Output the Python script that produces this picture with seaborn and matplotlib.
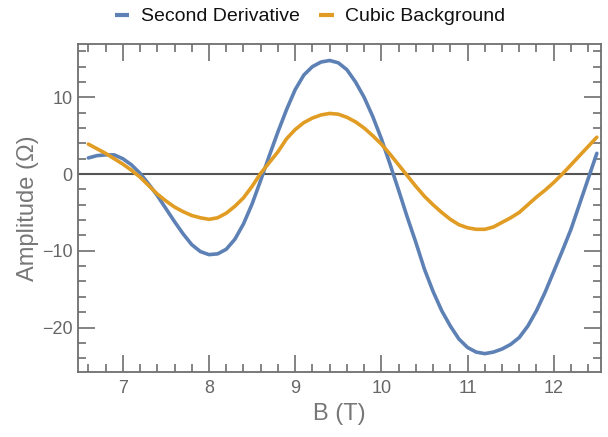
import numpy as np
import pandas as pd
import matplotlib
matplotlib.use('Agg')
import matplotlib.pyplot as plt
import seaborn as sns
from matplotlib.ticker import MultipleLocator

# field sampling grid (T)
field = np.round(np.arange(66, 126) / 10, 1)

second_derivative = [
    2.1, 2.4, 2.5, 2.5, 2.0, 1.2, 0.1, -1.3, -2.8, -4.5,
    -6.2, -7.8, -9.2, -10.1, -10.5, -10.4, -9.8, -8.5, -6.5, -3.9,
    -0.8, 2.4, 5.5, 8.4, 11.0, 12.9, 14.0, 14.6, 14.8, 14.5,
    13.6, 12.0, 10.0, 7.5, 4.6, 1.3, -2.1, -5.6, -8.9, -12.4,
    -15.3, -17.8, -19.8, -21.5, -22.6, -23.2, -23.4, -23.2, -22.8, -22.2,
    -21.3, -19.8, -17.8, -15.4, -12.7, -10.0, -7.2, -3.9, -0.6, 2.7,
]

cubic_background = [
    3.9, 3.3, 2.7, 2.0, 1.3, 0.5, -0.4, -1.5, -2.6, -3.5,
    -4.3, -4.9, -5.4, -5.7, -5.9, -5.7, -5.1, -4.2, -3.1, -1.6,
    0.1, 1.5, 2.9, 4.6, 5.8, 6.7, 7.3, 7.7, 7.9, 7.8,
    7.4, 6.8, 6.0, 5.0, 3.9, 2.6, 1.2, -0.2, -1.6, -2.9,
    -4.0, -5.0, -5.9, -6.6, -7.0, -7.2, -7.2, -6.9, -6.3, -5.7,
    -5.0, -4.0, -3.0, -2.1, -1.1, 0.0, 1.2, 2.4, 3.6, 4.8,
]

series_names = ['Second Derivative', 'Cubic Background']
colors = ['#5E81B5', '#E19C24']

df = pd.concat([
    pd.DataFrame({'B': field, 'amp': second_derivative, 'series': series_names[0]}),
    pd.DataFrame({'B': field, 'amp': cubic_background, 'series': series_names[1]}),
])

sns.set_style('ticks')
plt.rcParams['font.family'] = ['Liberation Sans', 'DejaVu Sans']

frame_color = '#6e6e6e'
text_gray = '#666666'

fig = plt.figure(figsize=(6.08, 4.37), dpi=100)
ax = fig.add_axes([0.128, 0.149, 0.86, 0.75])

ax.axhline(0, color='#555555', lw=1.5, zorder=1)
sns.lineplot(data=df, x='B', y='amp', hue='series', hue_order=series_names,
             palette=colors, linewidth=2.6, estimator=None, sort=False,
             ax=ax, zorder=2)
# the measured background trace is noisier, so draw it a bit heavier
ax.get_lines()[-1].set_linewidth(3.0)

ax.set_xlim(6.478, 12.545)
ax.set_ylim(-25.78, 16.93)
ax.xaxis.set_major_locator(MultipleLocator(1))
ax.xaxis.set_minor_locator(MultipleLocator(0.2))
ax.yaxis.set_major_locator(MultipleLocator(10))
ax.yaxis.set_minor_locator(MultipleLocator(2))

for side in ax.spines.values():
    side.set_color(frame_color)
    side.set_linewidth(1.3)
    side.set_visible(True)

ax.tick_params(which='both', direction='in', top=True, right=True,
               color=frame_color, width=1.2, labelcolor=text_gray,
               labelsize=13)
ax.tick_params(which='major', length=12, pad=6)
ax.tick_params(which='minor', length=6)
ax.tick_params(axis='y', which='major', pad=4)

ax.set_xlabel('B (T)', fontsize=17, color='#777777', labelpad=4)
ax.set_ylabel('Amplitude (\u03a9)', fontsize=17, color='#777777', labelpad=2)

handles, labels = ax.get_legend_handles_labels()
for h in handles:
    h.set_linewidth(3)
    h.set_solid_capstyle('butt')
fig.legend(handles, labels, loc='center', bbox_to_anchor=(0.51, 0.962),
           ncol=2, frameon=False, fontsize=14, handlelength=0.75,
           handletextpad=0.6, columnspacing=1.0, labelcolor='#111111')
ax.get_legend().remove()

fig.savefig('out.png', dpi=100)
